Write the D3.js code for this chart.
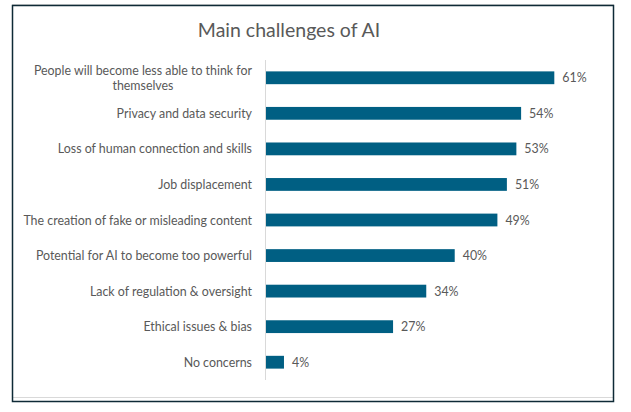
<!DOCTYPE html>
<html>
<head>
<meta charset="utf-8">
<script src="https://cdn.jsdelivr.net/npm/d3@7"></script>
<style>
  body { margin: 0; background: #fff; }
  svg { display: block; }
</style>
</head>
<body>
<svg id="chart"></svg>
<script>
var width = 631, height = 412;

var categories = [
  "People will become less able to think for themselves",
  "Privacy and data security",
  "Loss of human connection and skills",
  "Job displacement",
  "The creation of fake or misleading content",
  "Potential for AI to become too powerful",
  "Lack of regulation & oversight",
  "Ethical issues & bias",
  "No concerns"
];
var values = [0.61, 0.54, 0.53, 0.51, 0.49, 0.40, 0.34, 0.27, 0.04];
var title = "Main challenges of AI";

var fontFam = "Lato, 'Open Sans', sans-serif";
var textColor = "#595959";
var barColor = "#005f83";
var labelSize = 12.4;

var svg = d3.select("#chart").attr("width", width).attr("height", height);

// marco exterior
svg.append("line")
  .attr("x1", 12).attr("x2", 614).attr("y1", 4.5).attr("y2", 4.5)
  .attr("stroke", "#d9d9d9").attr("stroke-width", 1);
svg.append("line")
  .attr("x1", 13).attr("x2", 613).attr("y1", 397.5).attr("y2", 397.5)
  .attr("stroke", "#d9d9d9").attr("stroke-width", 1);
svg.append("rect")
  .attr("x", 12.5).attr("y", 5.5).attr("width", 601).attr("height", 396)
  .attr("fill", "none").attr("stroke", "#0e2a36").attr("stroke-width", 1.5);

svg.append("text")
  .attr("x", 289).attr("y", 37)
  .attr("text-anchor", "middle")
  .attr("font-family", fontFam)
  .attr("font-size", 19.5)
  .attr("fill", textColor)
  .text(title);

var xScale = d3.scaleLinear()
  .domain([0, 0.7])
  .range([265, 597]);

var yScale = d3.scaleBand()
  .domain(categories)
  .range([60, 380])
  .paddingInner(0.64)
  .paddingOuter(0.32);

// eje vertical
svg.append("line")
  .attr("x1", 265.5).attr("x2", 265.5)
  .attr("y1", 60).attr("y2", 380)
  .attr("stroke", "#d9d9d9").attr("stroke-width", 1);

svg.selectAll("rect.bar")
  .data(values)
  .enter().append("rect")
  .attr("class", "bar")
  .attr("x", xScale(0) + 1)
  .attr("y", function (d, i) { return yScale(categories[i]); })
  .attr("width", function (d) { return xScale(d) - xScale(0) - 1; })
  .attr("height", yScale.bandwidth())
  .attr("fill", barColor);

svg.selectAll("text.val")
  .data(values)
  .enter().append("text")
  .attr("class", "val")
  .attr("x", function (d) { return xScale(d) + 8; })
  .attr("y", function (d, i) { return yScale(categories[i]) + yScale.bandwidth() / 2 + 4.5; })
  .attr("font-family", fontFam)
  .attr("font-size", labelSize)
  .attr("fill", textColor)
  .text(function (d) { return Math.round(d * 100) + "%"; });

// etiquetas de categoria con salto de linea
var maxW = 240;
var labels = svg.selectAll("text.cat")
  .data(categories)
  .enter().append("text")
  .attr("class", "cat")
  .attr("font-family", fontFam)
  .attr("font-size", labelSize)
  .attr("fill", textColor)
  .attr("text-anchor", "middle");

labels.each(function (d) {
  var el = d3.select(this);
  var words = d.split(" ");
  var lines = [];
  var line = [];
  var probe = el.append("tspan");
  words.forEach(function (w) {
    line.push(w);
    probe.text(line.join(" "));
    if (probe.node().getComputedTextLength() > maxW && line.length > 1) {
      line.pop();
      lines.push(line.join(" "));
      line = [w];
    }
  });
  lines.push(line.join(" "));
  probe.remove();

  var widths = [];
  lines.forEach(function (l) {
    var t = el.append("tspan").text(l);
    widths.push(t.node().getComputedTextLength());
    t.remove();
  });
  var maxLine = d3.max(widths);
  var cx = 252 - maxLine / 2;
  var cy = yScale(d) + yScale.bandwidth() / 2 + 4.5;
  var lh = 15;
  var y0 = cy - (lines.length - 1) * lh / 2;
  lines.forEach(function (l, i) {
    el.append("tspan")
      .attr("x", cx)
      .attr("y", y0 + i * lh)
      .text(l);
  });
});
</script>
</body>
</html>
